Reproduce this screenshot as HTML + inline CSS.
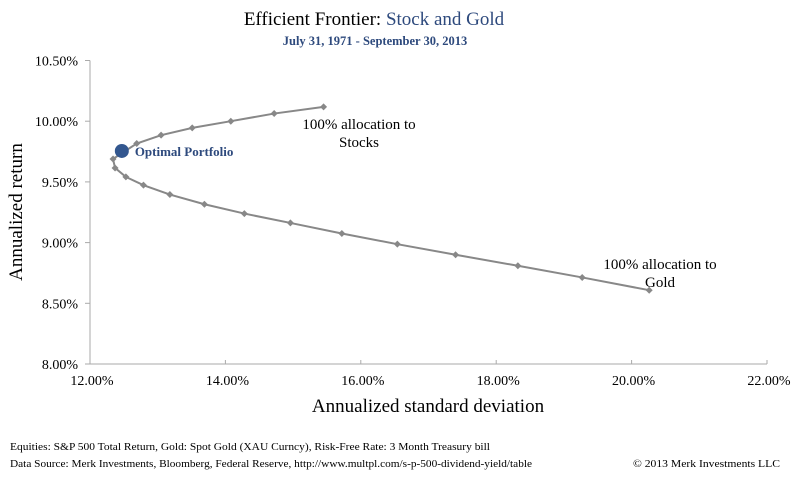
<!DOCTYPE html>
<html><head><meta charset="utf-8"><style>
html,body{margin:0;padding:0;background:#fff}
svg{display:block;font-family:"Liberation Serif",serif}
</style></head><body>
<svg width="800" height="481" viewBox="0 0 800 481">
<text x="374" y="25" font-size="19" text-anchor="middle"><tspan fill="#000">Efficient Frontier: </tspan><tspan fill="#2e4a7d">Stock and Gold</tspan></text>
<text x="375" y="45" font-size="12.5" font-weight="bold" fill="#2e4a7d" text-anchor="middle">July 31, 1971 - September 30, 2013</text>
<g id="axes"></g>
<g id="marks"></g>
<text x="428" y="412" font-size="19" text-anchor="middle">Annualized standard deviation</text>
<text transform="translate(22,212) rotate(-90)" font-size="19" text-anchor="middle">Annualized return</text>
<text x="10" y="450" font-size="11" textLength="480" lengthAdjust="spacingAndGlyphs">Equities: S&amp;P 500 Total Return, Gold: Spot Gold (XAU Curncy), Risk-Free Rate: 3 Month Treasury bill</text>
<text x="10" y="467" font-size="11" textLength="522" lengthAdjust="spacingAndGlyphs">Data Source: Merk Investments, Bloomberg, Federal Reserve, http://www.multpl.com/s-p-500-dividend-yield/table</text>
<text x="633" y="467" font-size="11" textLength="147" lengthAdjust="spacingAndGlyphs">© 2013 Merk Investments LLC</text>
</svg>
<script>
const xTicks=[12,14,16,18,20,22];
const yTicks=[8.0,8.5,9.0,9.5,10.0,10.5];
const stdDev=[15.45,14.72,14.08,13.51,13.05,12.69,12.34,12.37,12.53,12.79,13.18,13.69,14.28,14.96,15.72,16.54,17.40,18.32,19.27,20.26];
const returns=[10.118,10.063,10.000,9.945,9.885,9.816,9.689,9.615,9.541,9.473,9.396,9.316,9.239,9.162,9.075,8.987,8.900,8.809,8.713,8.608];
const optimalX=[12.47];
const optimalY=[9.755];
const NS="http://www.w3.org/2000/svg";
const sx=v=>90+(v-12)*67.7;
const sy=v=>364-(v-8)*121.4;
function mk(t,a,p){const e=document.createElementNS(NS,t);for(const k in a)e.setAttribute(k,a[k]);p.appendChild(e);return e;}
const ax=document.getElementById('axes'),mg=document.getElementById('marks');
let l=mk('line',{x1:sx(12),y1:sy(8),x2:sx(22),y2:sy(8),stroke:'#aaa','stroke-width':1},ax);


l=mk('line',{x1:sx(12),y1:sy(8),x2:sx(12),y2:sy(10.5),stroke:'#aaa','stroke-width':1},ax);


xTicks.forEach(v=>{
 mk('line',{x1:sx(v),y1:sy(8),x2:sx(v),y2:sy(8)-4,stroke:'#aaa'},ax);
 const t=mk('text',{x:sx(v)+2,y:385,'font-size':14,'text-anchor':'middle'},ax);
 t.textContent=v.toFixed(2)+'%';
 
 
});
yTicks.forEach(v=>{
 mk('line',{x1:sx(12)-5,y1:sy(v),x2:sx(12),y2:sy(v),stroke:'#aaa'},ax);
 const t=mk('text',{x:78,y:sy(v)+5,'font-size':14,'text-anchor':'end'},ax);
 t.textContent=v.toFixed(2)+'%';
 
 
});
const pl=mk('polyline',{points:stdDev.map((x,i)=>sx(x)+','+sy(returns[i])).join(' '),fill:'none',stroke:'#888','stroke-width':2},mg);


stdDev.forEach((x,i)=>{
 const cx=sx(x),cy=sy(returns[i]);
 const d=mk('polygon',{points:`${cx},${cy-3.5} ${cx+3.5},${cy} ${cx},${cy+3.5} ${cx-3.5},${cy}`,fill:'#888'},mg);
 
 
});
const op=mk('circle',{cx:sx(optimalX[0]),cy:sy(optimalY[0]),r:7,fill:'#33578f'},mg);


const ol=mk('text',{x:sx(optimalX[0])+13,y:sy(optimalY[0])+5,'font-size':13,'font-weight':'bold',fill:'#2e4a7d'},mg);
ol.textContent='Optimal Portfolio';


function lbl(lines,x,y,name){const t=mk('text',{x:x,y:y,'font-size':15,'text-anchor':'middle'},mg);
 lines.forEach((s,i)=>{const ts=mk('tspan',{x:x,dy:i?18:0},t);ts.textContent=s;});
 
 }
lbl(['100% allocation to','Stocks'],359,129,'stocks-annotation');
lbl(['100% allocation to','Gold'],660,269,'gold-annotation');
</script>
</body></html>
